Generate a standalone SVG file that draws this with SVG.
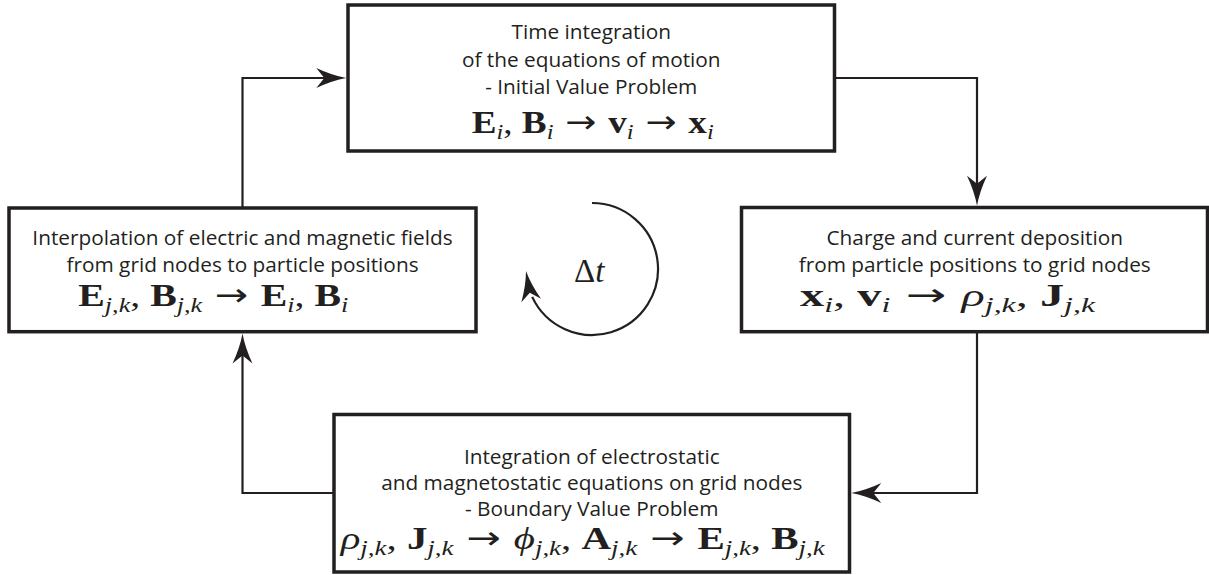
<svg xmlns="http://www.w3.org/2000/svg" width="1209" height="575" viewBox="0 0 1209 575">
<defs>
<style>
.box{fill:#fff;stroke:#231f20;stroke-width:3.5}
.t{font-family:"Open Sans","Liberation Sans",sans-serif;font-size:20.8px;fill:#231f20;text-anchor:middle}
.m{font-family:"Liberation Serif","DejaVu Serif",serif;font-size:32px;fill:#231f20}
.b{font-weight:bold}
.s{font-style:italic;font-size:21px}
.g{font-style:italic}
.ar{font-family:"DejaVu Sans",sans-serif}
.c{fill:none;stroke:#231f20;stroke-width:2.2}
.ah{fill:#231f20}
</style>
<path id="ah" class="ah" d="M0,0 Q-14,-2.5 -30,-10 L-22,0 L-30,10 Q-14,2.5 0,0 Z"/>
</defs>
<rect width="1209" height="575" fill="#fff"/>
<g id="connectors">
<path class="c" d="M242.5,208 V78 H330"/>
<use href="#ah" transform="translate(346.3,78)"/>
<path class="c" d="M834.5,78 H977 V190"/>
<use href="#ah" transform="translate(977,205.8) rotate(90)"/>
<path class="c" d="M977,331.7 V493 H868"/>
<use href="#ah" transform="translate(851.3,493) rotate(180)"/>
<path class="c" d="M334,493 H242.5 V350"/>
<use href="#ah" transform="translate(242.5,333.5) rotate(-90)"/>
</g>
<g id="cycle">
<path class="c" d="M592,203 A66,66 0 1 1 532.2,296.9"/>
<use href="#ah" transform="translate(526,271) rotate(-100)"/>
<text class="m" x="574" y="282" style="font-size:33px">Δ<tspan class="g">t</tspan></text>
</g>
<g id="node-time-integration">
<rect class="box" x="348" y="5" width="486.5" height="146"/>
<text class="t" x="591.25" y="39">Time integration</text>
<text class="t" x="591.25" y="66.5">of the equations of motion</text>
<text class="t" x="591.25" y="94">- Initial Value Problem</text>
<text class="m" x="471.7" y="133" textLength="242" lengthAdjust="spacingAndGlyphs"><tspan class="b">E</tspan><tspan class="s" dy="6">i</tspan><tspan dy="-6">, </tspan><tspan class="b">B</tspan><tspan class="s" dy="6">i</tspan><tspan class="ar" dy="-6"> → </tspan><tspan class="b">v</tspan><tspan class="s" dy="6">i</tspan><tspan class="ar" dy="-6"> → </tspan><tspan class="b">x</tspan><tspan class="s" dy="6">i</tspan></text>
</g>
<g id="node-interpolation">
<rect class="box" x="9" y="208" width="467" height="123.7"/>
<text class="t" x="242.5" y="245">Interpolation of electric and magnetic fields</text>
<text class="t" x="242.5" y="272.3">from grid nodes to particle positions</text>
<text class="m" x="78.3" y="306" textLength="270" lengthAdjust="spacingAndGlyphs"><tspan class="b">E</tspan><tspan class="s" dy="6">j,k</tspan><tspan dy="-6">, </tspan><tspan class="b">B</tspan><tspan class="s" dy="6">j,k</tspan><tspan class="ar" dy="-6"> → </tspan><tspan class="b">E</tspan><tspan class="s" dy="6">i</tspan><tspan dy="-6">, </tspan><tspan class="b">B</tspan><tspan class="s" dy="6">i</tspan></text>
</g>
<g id="node-deposition">
<rect class="box" x="741.5" y="207.5" width="466" height="124.2"/>
<text class="t" x="974.7" y="245">Charge and current deposition</text>
<text class="t" x="974.7" y="272.3">from particle positions to grid nodes</text>
<text class="m" x="800" y="306" textLength="295" lengthAdjust="spacingAndGlyphs"><tspan class="b">x</tspan><tspan class="s" dy="6">i</tspan><tspan dy="-6">, </tspan><tspan class="b">v</tspan><tspan class="s" dy="6">i</tspan><tspan class="ar" dy="-6"> → </tspan><tspan class="g">ρ</tspan><tspan class="s" dy="6">j,k</tspan><tspan dy="-6">, </tspan><tspan class="b">J</tspan><tspan class="s" dy="6">j,k</tspan></text>
</g>
<g id="node-field-solve">
<rect class="box" x="334" y="414.5" width="515.5" height="157.5"/>
<text class="t" x="591.75" y="464">Integration of electrostatic</text>
<text class="t" x="591.75" y="490">and magnetostatic equations on grid nodes</text>
<text class="t" x="591.75" y="515.5">- Boundary Value Problem</text>
<text class="m" x="340.7" y="549" textLength="484" lengthAdjust="spacingAndGlyphs"><tspan class="g">ρ</tspan><tspan class="s" dy="6">j,k</tspan><tspan dy="-6">, </tspan><tspan class="b">J</tspan><tspan class="s" dy="6">j,k</tspan><tspan class="ar" dy="-6"> → </tspan><tspan class="g">ϕ</tspan><tspan class="s" dy="6">j,k</tspan><tspan dy="-6">, </tspan><tspan class="b">A</tspan><tspan class="s" dy="6">j,k</tspan><tspan class="ar" dy="-6"> → </tspan><tspan class="b">E</tspan><tspan class="s" dy="6">j,k</tspan><tspan dy="-6">, </tspan><tspan class="b">B</tspan><tspan class="s" dy="6">j,k</tspan></text>
</g>
</svg>
